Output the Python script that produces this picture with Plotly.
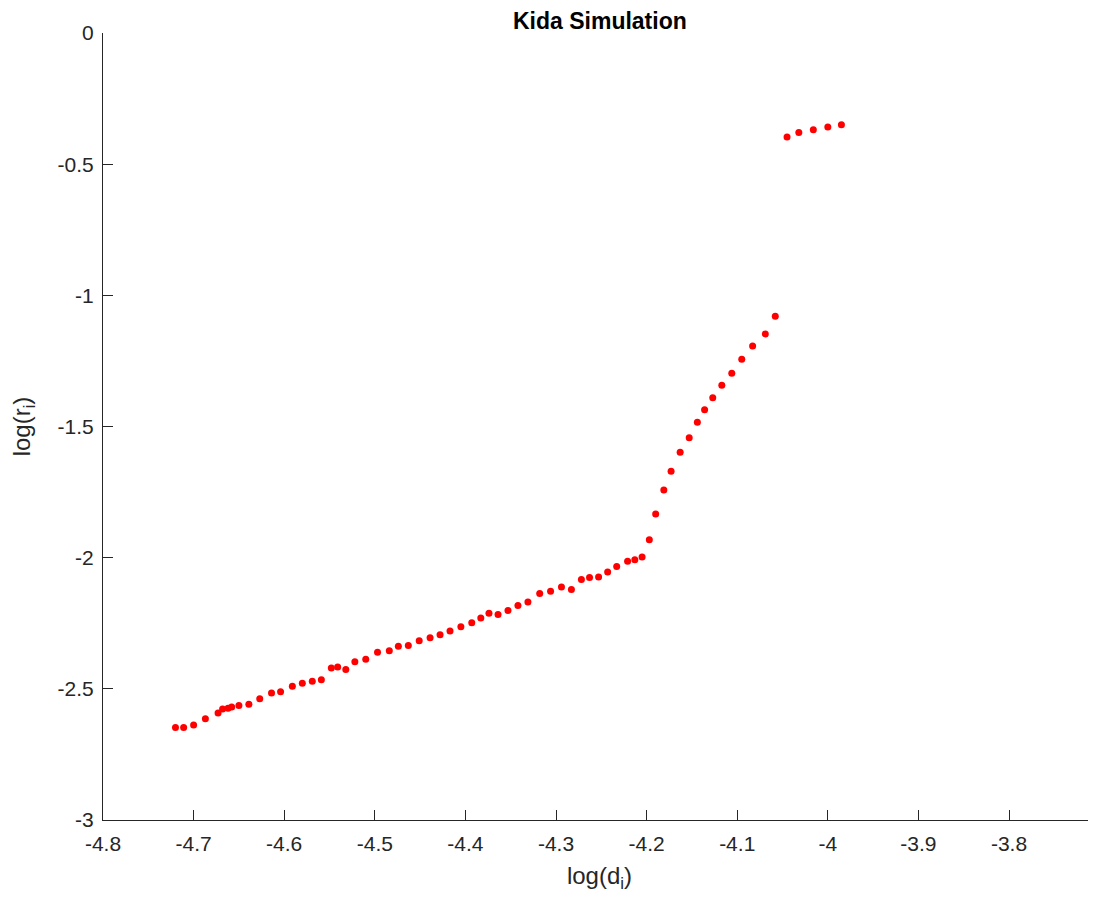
import plotly.graph_objects as go

log_d = [-4.720, -4.711, -4.700, -4.687, -4.673, -4.668, -4.662, -4.658, -4.650, -4.639,
         -4.627, -4.614, -4.604, -4.591, -4.580, -4.569, -4.559, -4.548, -4.541, -4.532,
         -4.522, -4.510, -4.497, -4.484, -4.474, -4.463, -4.451, -4.439, -4.428, -4.417,
         -4.405, -4.393, -4.383, -4.374, -4.364, -4.353, -4.342, -4.331, -4.318, -4.306,
         -4.294, -4.283, -4.272, -4.263, -4.253, -4.243, -4.233, -4.221, -4.213, -4.205,
         -4.197, -4.190, -4.181, -4.173, -4.163, -4.153, -4.144, -4.136, -4.127, -4.117,
         -4.106, -4.095, -4.083, -4.069, -4.058, -4.045, -4.032, -4.016, -4.000, -3.985]
log_r = [-2.647, -2.647, -2.638, -2.614, -2.592, -2.577, -2.574, -2.569, -2.564, -2.559,
         -2.538, -2.516, -2.511, -2.490, -2.479, -2.471, -2.465, -2.421, -2.417, -2.426,
         -2.397, -2.387, -2.361, -2.355, -2.338, -2.335, -2.317, -2.305, -2.294, -2.280,
         -2.263, -2.248, -2.230, -2.212, -2.217, -2.201, -2.182, -2.169, -2.137, -2.128,
         -2.112, -2.121, -2.083, -2.076, -2.074, -2.055, -2.034, -2.014, -2.008, -1.997,
         -1.932, -1.834, -1.742, -1.671, -1.598, -1.543, -1.484, -1.436, -1.390, -1.343,
         -1.297, -1.244, -1.193, -1.147, -1.080, -0.396, -0.379, -0.369, -0.358, -0.350]

x_ticks = [-4.8, -4.7, -4.6, -4.5, -4.4, -4.3, -4.2, -4.1, -4.0, -3.9, -3.8]
x_tick_text = ["-4.8", "-4.7", "-4.6", "-4.5", "-4.4", "-4.3", "-4.2", "-4.1", "-4", "-3.9", "-3.8"]
y_ticks = [0, -0.5, -1, -1.5, -2, -2.5, -3]
y_tick_text = ["0", "-0.5", "-1", "-1.5", "-2", "-2.5", "-3"]

axis_color = "#262626"
font_family = "Liberation Sans, Arial, Helvetica, sans-serif"

fig = go.Figure()
fig.add_trace(go.Scatter(
    x=log_d, y=log_r, mode="markers",
    marker=dict(color="#ff0000", size=7, line=dict(width=0)),
    showlegend=False,
))

fig.update_layout(
    width=1088, height=892,
    paper_bgcolor="white", plot_bgcolor="white",
    margin=dict(l=95, r=0, t=25, b=80),
    font=dict(family=font_family, color=axis_color, size=21),
    title=dict(text="<b>Kida Simulation</b>", x=0.544, xanchor="center", y=0.995, yanchor="top",
               font=dict(size=23, color="black", family=font_family)),
    xaxis=dict(
        range=[-4.8, -3.704], tickvals=x_ticks, ticktext=x_tick_text,
        showgrid=False, zeroline=False, showline=True, linecolor=axis_color, linewidth=1,
        ticks="inside", ticklen=10, tickcolor=axis_color, tickwidth=1, ticklabelstandoff=5,
        title=dict(text="log(d<sub>i</sub>)", font=dict(size=24), standoff=12),
        automargin=False, mirror=False,
    ),
    yaxis=dict(
        range=[-3, 0], tickvals=y_ticks, ticktext=y_tick_text,
        showgrid=False, zeroline=False, showline=True, linecolor=axis_color, linewidth=1,
        ticks="inside", ticklen=10, tickcolor=axis_color, tickwidth=1, ticklabelstandoff=4,
        title=dict(text="log(r<sub>i</sub>)", font=dict(size=24), standoff=24),
        automargin=False, mirror=False,
    ),
)

fig.write_html("out.html")
